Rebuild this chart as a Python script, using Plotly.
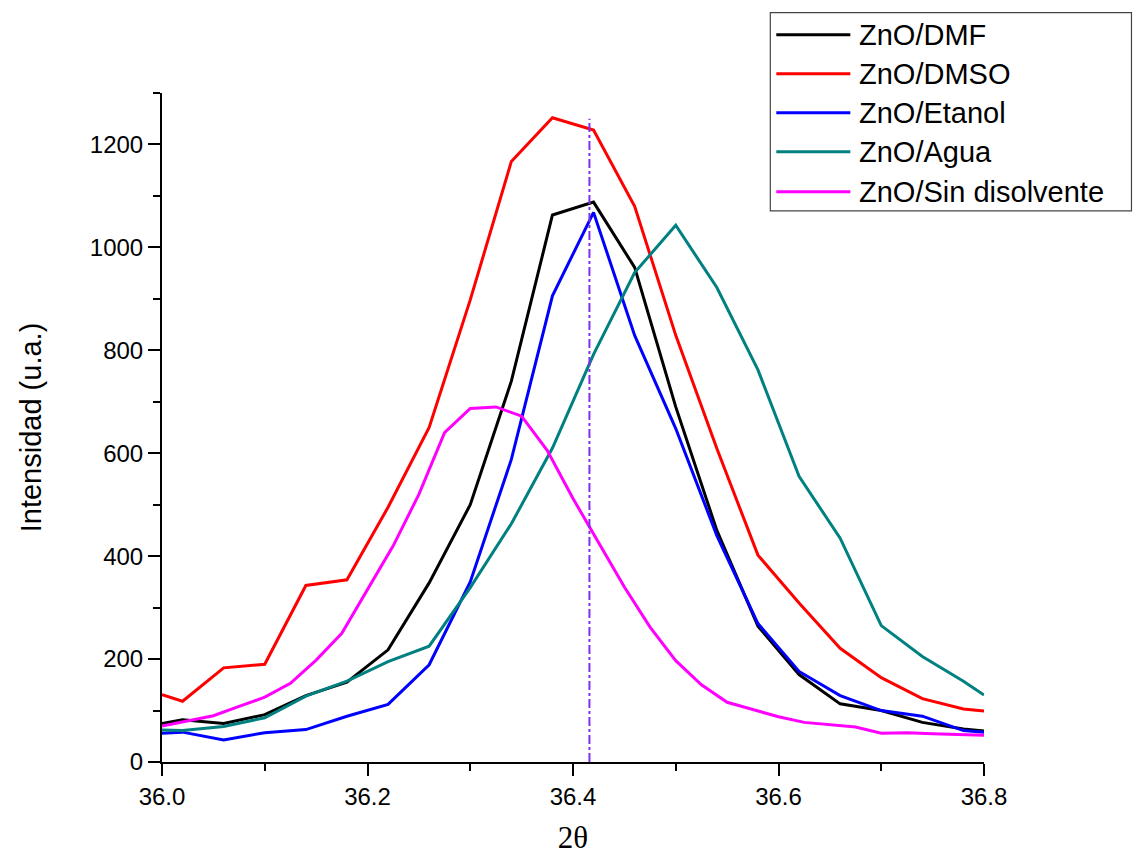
import plotly.graph_objects as go

# ---------------- data ----------------
x_main = [36.00, 36.02, 36.06, 36.10, 36.14, 36.18, 36.22, 36.26, 36.30, 36.34, 36.38,
          36.42, 36.46, 36.50, 36.54, 36.58, 36.62, 36.66, 36.70, 36.74, 36.78, 36.80]
dmf = [75, 82, 75, 92, 129, 155, 218, 348, 500, 740, 1063,
       1088, 961, 690, 450, 264, 170, 113, 100, 77, 64, 60]
dmso = [131, 118, 183, 190, 343, 354, 495, 650, 898, 1167, 1252,
        1228, 1080, 829, 609, 402, 309, 221, 164, 123, 103, 99]
etanol = [56, 58, 43, 57, 63, 89, 112, 189, 350, 588, 906,
          1068, 829, 648, 440, 269, 176, 129, 100, 89, 61, 58]
agua = [62, 61, 69, 86, 128, 157, 195, 225, 339, 463, 610,
        792, 951, 1043, 922, 762, 555, 435, 265, 205, 157, 130]

x_sin = [36.000, 36.025, 36.050, 36.075, 36.100, 36.125, 36.150, 36.175, 36.200, 36.225,
         36.250, 36.275, 36.300, 36.325, 36.350, 36.375, 36.400, 36.425, 36.450, 36.475,
         36.500, 36.525, 36.550, 36.575, 36.600, 36.625, 36.650, 36.675, 36.700, 36.725,
         36.750, 36.775, 36.800]
sin_dis = [70, 80, 90, 108, 126, 153, 198, 250, 335, 420,
           520, 640, 687, 690, 672, 605, 512, 425, 340, 262,
           197, 150, 116, 102, 88, 77, 72, 68, 56, 57,
           55, 53, 52]

ref_x = [36.416, 36.416]
ref_y = [0, 1250]

names = ["ZnO/DMF", "ZnO/DMSO", "ZnO/Etanol", "ZnO/Agua", "ZnO/Sin disolvente"]
colors = ["#000000", "#FF0000", "#0000FF", "#008080", "#FF00FF"]
series_x = [x_main, x_main, x_main, x_main, x_sin]
series_y = [dmf, dmso, etanol, agua, sin_dis]

# ---------------- layout geometry (pixels) ----------------
W, H = 1135, 857
L, R = 162, 983.6
T, B = 93.3, 761.7


def px_x(p):
    return (p - L) / (R - L)


def px_y(p):
    return (B - p) / (B - T)


fig = go.Figure()

for xs, ys, n, c in zip(series_x, series_y, names, colors):
    fig.add_trace(go.Scatter(x=xs, y=ys, mode="lines", name=n,
                             line=dict(color=c, width=3), showlegend=False))

fig.add_trace(go.Scatter(x=ref_x, y=ref_y, mode="lines", showlegend=False,
                         line=dict(color="#7F30E8", width=2, dash="dashdot")))

# ---------------- manual legend ----------------
shapes = [dict(type="rect", xref="paper", yref="paper",
               x0=px_x(770), x1=px_x(1131), y0=px_y(211), y1=px_y(13),
               line=dict(color="#444444", width=1.2), fillcolor="white", layer="above")]
annotations = []
row_y = [35, 74, 113, 152, 192]
for n, c, ry in zip(names, colors, row_y):
    shapes.append(dict(type="line", xref="paper", yref="paper",
                       x0=px_x(776), x1=px_x(850), y0=px_y(ry), y1=px_y(ry),
                       line=dict(color=c, width=3), layer="above"))
    annotations.append(dict(xref="paper", yref="paper", x=px_x(857), y=px_y(ry),
                            text=n, showarrow=False, xanchor="left", yanchor="middle",
                            font=dict(family="Liberation Sans, Arial, sans-serif",
                                      size=29, color="black")))

fig.update_layout(
    width=W, height=H,
    margin=dict(l=L, r=W - R, t=T, b=H - B, autoexpand=False),
    paper_bgcolor="white", plot_bgcolor="white",
    shapes=shapes, annotations=annotations,
    showlegend=False,
    font=dict(family="Liberation Sans, Arial, sans-serif", color="black"),
)

fig.update_xaxes(
    range=[36.0, 36.8], dtick=0.2, tick0=36.0, tickformat=".1f",
    showline=True, linecolor="black", linewidth=2, mirror=False,
    showgrid=False, zeroline=False,
    ticks="outside", ticklen=12, tickwidth=2, tickcolor="black",
    minor=dict(dtick=0.1, ticks="outside", ticklen=7, tickwidth=2, tickcolor="black"),
    tickfont=dict(size=24, color="black"),
    title=dict(text="2θ", font=dict(family="Liberation Serif, Times New Roman, serif",
                                    size=31, color="black"), standoff=18),
)
fig.update_yaxes(
    range=[0, 1300], dtick=200, tick0=0,
    showline=True, linecolor="black", linewidth=2, mirror=False,
    showgrid=False, zeroline=False,
    ticks="outside", ticklen=12, tickwidth=2, tickcolor="black",
    minor=dict(dtick=100, ticks="outside", ticklen=7, tickwidth=2, tickcolor="black"),
    tickfont=dict(size=24, color="black"),
    title=dict(text="Intensidad (u.a.)", font=dict(size=29, color="black"), standoff=40),
)

fig.write_html("out.html")
